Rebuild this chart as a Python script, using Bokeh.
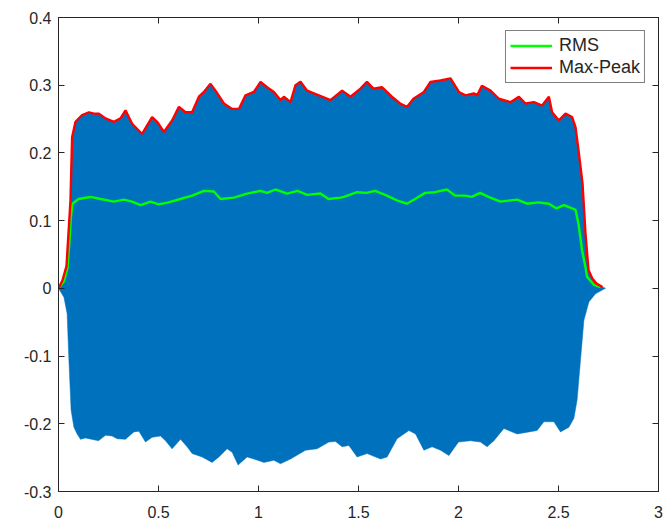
from bokeh.plotting import figure
from bokeh.models import Range1d, LinearAxis, FixedTicker, Legend, LegendItem
from bokeh.embed import file_html
from bokeh.resources import INLINE

# ---- data ----
peak_t = [0, 0.02, 0.04, 0.06, 0.068, 0.085, 0.118, 0.152, 0.177, 0.202, 0.235, 0.277, 0.31, 0.335, 0.368,
          0.418, 0.468, 0.493, 0.527, 0.568, 0.602, 0.635, 0.668, 0.702, 0.727, 0.76, 0.785, 0.827, 0.868,
          0.902, 0.935, 0.977, 1.01, 1.043, 1.077, 1.11, 1.127, 1.16, 1.185, 1.21, 1.243, 1.277, 1.36, 1.418,
          1.46, 1.51, 1.542, 1.575, 1.617, 1.667, 1.708, 1.742, 1.775, 1.827, 1.86, 1.91, 1.96, 2.002, 2.035,
          2.077, 2.093, 2.117, 2.16, 2.202, 2.26, 2.302, 2.335, 2.377, 2.418, 2.452, 2.468, 2.502, 2.535,
          2.568, 2.585, 2.6, 2.62, 2.635, 2.65, 2.67, 2.69, 2.72]
peak_v = [0, 0.012, 0.033, 0.13, 0.223, 0.246, 0.256, 0.26, 0.258, 0.258, 0.251, 0.246, 0.251, 0.263, 0.243,
          0.228, 0.253, 0.246, 0.231, 0.248, 0.268, 0.26, 0.26, 0.283, 0.29, 0.302, 0.292, 0.273, 0.265,
          0.265, 0.285, 0.29, 0.305, 0.297, 0.29, 0.278, 0.283, 0.275, 0.3, 0.305, 0.292, 0.288, 0.278, 0.292,
          0.283, 0.295, 0.305, 0.295, 0.297, 0.283, 0.273, 0.268, 0.28, 0.29, 0.305, 0.307, 0.31, 0.29, 0.285,
          0.288, 0.285, 0.299, 0.292, 0.28, 0.275, 0.283, 0.273, 0.275, 0.27, 0.283, 0.26, 0.248, 0.258,
          0.253, 0.238, 0.204, 0.155, 0.081, 0.027, 0.014, 0.007, 0.002]

rms_t = [0, 0.027, 0.045, 0.055, 0.062, 0.07, 0.10, 0.16, 0.21, 0.277, 0.327, 0.368, 0.41, 0.46, 0.5, 0.55,
         0.61, 0.668, 0.727, 0.777, 0.81, 0.877, 0.943, 1.01, 1.043, 1.085, 1.143, 1.195, 1.243, 1.31, 1.35,
         1.41, 1.427, 1.493, 1.54, 1.583, 1.642, 1.692, 1.742, 1.783, 1.833, 1.883, 1.942, 1.983, 2.033,
         2.067, 2.108, 2.15, 2.21, 2.26, 2.293, 2.343, 2.4, 2.452, 2.49, 2.527, 2.568, 2.585, 2.6, 2.618,
         2.635, 2.643, 2.678, 2.71]
rms_v = [0, 0.01, 0.03, 0.07, 0.105, 0.125, 0.132, 0.135, 0.132, 0.128, 0.131, 0.128, 0.123, 0.128, 0.124, 0.127,
         0.132, 0.137, 0.144, 0.143, 0.132, 0.134, 0.14, 0.144, 0.141, 0.146, 0.14, 0.144, 0.138, 0.14, 0.132,
         0.134, 0.135, 0.142, 0.141, 0.144, 0.137, 0.13, 0.125, 0.132, 0.141, 0.142, 0.146, 0.137, 0.137,
         0.135, 0.141, 0.135, 0.128, 0.13, 0.131, 0.125, 0.127, 0.125, 0.118, 0.123, 0.118, 0.116, 0.095, 0.056,
         0.031, 0.017, 0.005, 0.002]

low_t = [0, 0.027, 0.043, 0.052, 0.063, 0.077, 0.093, 0.11, 0.135, 0.152, 0.2, 0.235, 0.268, 0.293, 0.335,
         0.377, 0.402, 0.435, 0.468, 0.51, 0.535, 0.568, 0.61, 0.643, 0.668, 0.718, 0.768, 0.802, 0.843,
         0.868, 0.898, 0.943, 0.977, 1.027, 1.077, 1.11, 1.16, 1.235, 1.293, 1.352, 1.385, 1.418, 1.452,
         1.493, 1.543, 1.61, 1.643, 1.693, 1.752, 1.785, 1.827, 1.868, 1.91, 1.952, 2.0, 2.06, 2.11, 2.143,
         2.177, 2.227, 2.293, 2.352, 2.393, 2.427, 2.477, 2.51, 2.552, 2.577, 2.593, 2.61, 2.627, 2.652,
         2.685, 2.735]
low_v = [0, -0.013, -0.037, -0.106, -0.18, -0.205, -0.215, -0.223, -0.221, -0.222, -0.225, -0.217, -0.218,
         -0.222, -0.223, -0.212, -0.211, -0.227, -0.22, -0.218, -0.225, -0.237, -0.223, -0.234, -0.244,
         -0.249, -0.257, -0.249, -0.237, -0.242, -0.261, -0.249, -0.252, -0.257, -0.254, -0.259, -0.252,
         -0.239, -0.237, -0.227, -0.226, -0.234, -0.232, -0.249, -0.244, -0.252, -0.249, -0.222, -0.21,
         -0.215, -0.239, -0.234, -0.239, -0.247, -0.227, -0.225, -0.227, -0.234, -0.225, -0.207, -0.215,
         -0.212, -0.21, -0.197, -0.197, -0.212, -0.205, -0.192, -0.165, -0.106, -0.047, -0.02, -0.008, 0]

signal_end_t = [2.735]
signal_end_v = [0.0]

x_ticks = [0, 0.5, 1, 1.5, 2, 2.5, 3]
x_tick_labels = ["0", "0.5", "1", "1.5", "2", "2.5", "3"]
y_ticks = [-0.3, -0.2, -0.1, 0, 0.1, 0.2, 0.3, 0.4]
y_tick_labels = ["-0.3", "-0.2", "-0.1", "0", "0.1", "0.2", "0.3", "0.4"]

assert len(peak_t) == len(peak_v)
assert len(rms_t) == len(rms_v)
assert len(low_t) == len(low_v)

AX = "#262626"
FONT = "Liberation Sans"

p = figure(width=667, height=522, output_backend="svg", toolbar_location=None,
           x_range=Range1d(0, 3), y_range=Range1d(-0.3, 0.4),
           x_axis_location=None, y_axis_location=None,
           min_border_left=58, min_border_right=9, min_border_top=17, min_border_bottom=31)
p.xgrid.visible = False
p.ygrid.visible = False
p.outline_line_color = AX
p.outline_line_width = 1
p.background_fill_color = "white"
p.border_fill_color = "white"

# signal (filled band between upper and lower envelope)
sig_x = peak_t + signal_end_t + low_t[::-1]
sig_y = peak_v + signal_end_v + low_v[::-1]
p.patch(sig_x, sig_y, fill_color="#0072BD", line_color="#0072BD", line_width=0.5)

r_rms = p.line(rms_t, rms_v, line_color="#00FF00", line_width=2.4)
r_peak = p.line(peak_t, peak_v, line_color="#FF0000", line_width=2.4)

def make_axis(labels, ticks, overrides):
    ax = LinearAxis(ticker=FixedTicker(ticks=ticks))
    ax.axis_line_color = AX
    ax.major_tick_line_color = AX
    ax.major_tick_in = 6
    ax.major_tick_out = 0
    ax.minor_tick_line_color = None
    ax.major_label_text_font = FONT
    ax.major_label_text_font_size = "16px"
    ax.major_label_text_color = AX if labels else None
    ax.major_label_overrides = overrides
    return ax

xo = {t: l for t, l in zip(x_ticks, x_tick_labels)}
yo = {t: l for t, l in zip(y_ticks, y_tick_labels)}

bx = make_axis(True, x_ticks, xo)
bx.major_label_standoff = 14
p.add_layout(bx, "below")
ly = make_axis(True, y_ticks, yo)
ly.major_label_standoff = 7
p.add_layout(ly, "left")
tx = make_axis(False, x_ticks, xo)
tx.major_label_text_font_size = "0px"
tx.major_label_standoff = 0
p.add_layout(tx, "above")
ry = make_axis(False, y_ticks, yo)
ry.major_label_text_font_size = "0px"
ry.major_label_standoff = 0
p.add_layout(ry, "right")

legend = Legend(items=[LegendItem(label="RMS", renderers=[r_rms]),
                       LegendItem(label="Max-Peak", renderers=[r_peak])],
                location="top_right")
legend.margin = 13
legend.padding = 4
legend.spacing = 1
legend.glyph_width = 42
legend.glyph_height = 21
legend.label_height = 21
legend.label_standoff = 7
legend.label_text_font = FONT
legend.label_text_font_size = "18px"
legend.label_text_color = AX
legend.border_line_color = "black"
legend.border_line_width = 1
legend.background_fill_color = "white"
legend.background_fill_alpha = 1
p.add_layout(legend, "center")

open("out.html", "w").write(file_html(p, INLINE))
